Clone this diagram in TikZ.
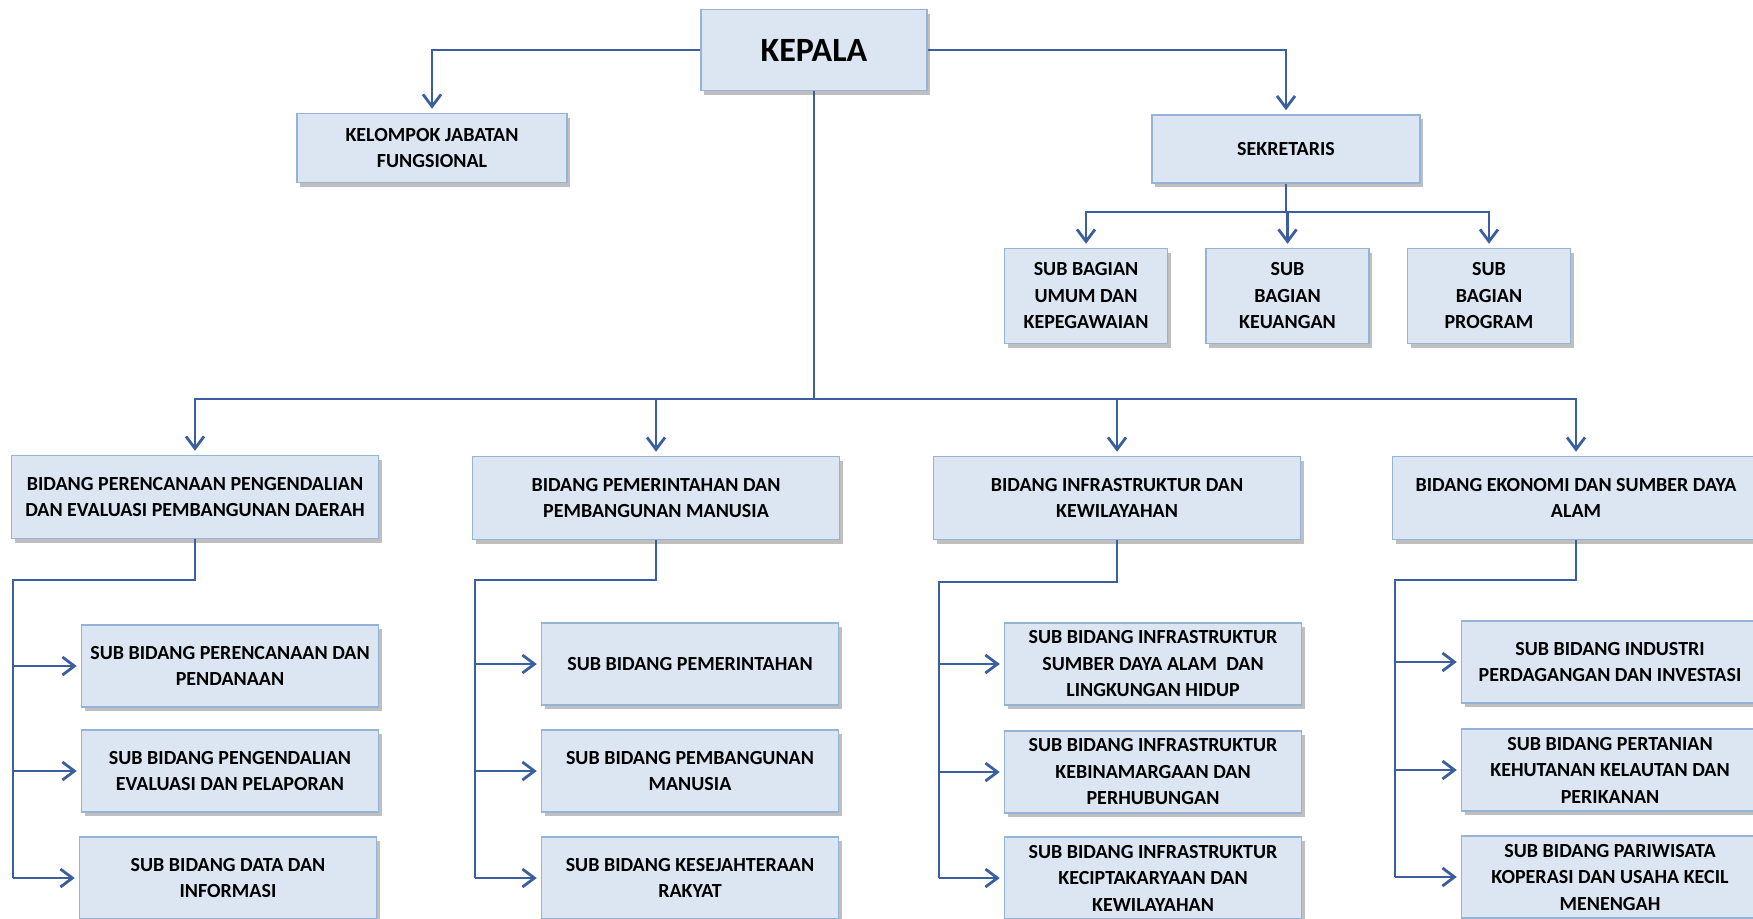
\documentclass[tikz,border=0pt]{standalone}
\usepackage{fontspec}
\setmainfont{Carlito}
\usetikzlibrary{arrows.meta,shadows,positioning}
\definecolor{boxfill}{HTML}{DCE6F2}
\definecolor{boxline}{HTML}{95B3D7}
\definecolor{linkblue}{HTML}{3A5E9E}

\begin{document}
\begin{tikzpicture}[
        x=1pt, y=-1pt,
        box/.style={draw=boxline, line width=1.5pt, fill=boxfill, align=center, inner sep=2pt,
            font=\bfseries\fontsize{20}{26.5}\selectfont,
            drop shadow={shadow xshift=3pt, shadow yshift=-4pt, fill=black, opacity=.25}},
        unit/.style={box, minimum width=297pt, minimum height=82pt},
        bidang/.style={box, minimum width=367pt, minimum height=83pt},
        subbag/.style={box, minimum width=163pt, minimum height=95pt},
        link/.style={line width=2.8pt, draw=linkblue},
        conn/.style={link, -{Straight Barb[length=12pt,width=18pt]}, shorten >=4pt}
    ]
    \useasboundingbox (0,0) rectangle (1753,918);

    % Nodes
    \node[box, minimum width=226pt, minimum height=81pt,
        font=\bfseries\fontsize{34}{40}\selectfont] (kepala) at (814,50) {KEPALA};
    \node[box, minimum width=270pt, minimum height=69pt] (kelompok) at (432,148)
        {KELOMPOK JABATAN\\FUNGSIONAL};
    \node[box, minimum width=268pt, minimum height=68pt] (sekretaris) at (1286,149) {SEKRETARIS};

    \node[subbag] (umum) at (1086,296) {SUB BAGIAN\\UMUM DAN\\KEPEGAWAIAN};
    \node[subbag, right=37pt of umum] (keuangan) {SUB\\BAGIAN\\KEUANGAN};
    \node[subbag, right=37pt of keuangan] (program) {SUB\\BAGIAN\\PROGRAM};

    \node[bidang] (perencanaan) at (195,497) {BIDANG PERENCANAAN PENGENDALIAN\\
        DAN EVALUASI PEMBANGUNAN DAERAH};
    \node[bidang] (pemerintahan) at (656,498) {BIDANG PEMERINTAHAN DAN\\
        PEMBANGUNAN MANUSIA};
    \node[bidang] (infrastruktur) at (1117,498) {BIDANG INFRASTRUKTUR DAN\\
        KEWILAYAHAN};
    \node[bidang] (ekonomi) at (1576,498) {BIDANG EKONOMI DAN SUMBER DAYA\\
        ALAM};

    \node[unit] (pr1) at (230,666) {SUB BIDANG PERENCANAAN DAN\\PENDANAAN};
    \node[unit] (pr2) at (230,771) {SUB BIDANG PENGENDALIAN\\EVALUASI DAN PELAPORAN};
    \node[unit] (pr3) at (228,878) {SUB BIDANG DATA DAN\\INFORMASI};

    \node[unit] (pm1) at (690,664) {SUB BIDANG PEMERINTAHAN};
    \node[unit] (pm2) at (690,771) {SUB BIDANG PEMBANGUNAN\\MANUSIA};
    \node[unit] (pm3) at (690,878) {SUB BIDANG KESEJAHTERAAN\\RAKYAT};

    \node[unit] (in1) at (1153,664) {SUB BIDANG INFRASTRUKTUR\\
        SUMBER DAYA ALAM~~DAN\\LINGKUNGAN HIDUP};
    \node[unit] (in2) at (1153,772) {SUB BIDANG INFRASTRUKTUR\\
        KEBINAMARGAAN DAN\\PERHUBUNGAN};
    \node[unit] (in3) at (1153,878) {SUB BIDANG INFRASTRUKTUR\\
        KECIPTAKARYAAN DAN\\KEWILAYAHAN};

    \node[unit] (ek1) at (1610,662) {SUB BIDANG INDUSTRI\\PERDAGANGAN DAN INVESTASI};
    \node[unit] (ek2) at (1610,770) {SUB BIDANG PERTANIAN\\
        KEHUTANAN KELAUTAN DAN\\PERIKANAN};
    \node[unit] (ek3) at (1610,877) {SUB BIDANG PARIWISATA\\
        KOPERASI DAN USAHA KECIL\\MENENGAH};

    % Bus points
    \coordinate (sekbus) at (1286,212);
    \coordinate (bus) at (814,399);
    \coordinate (prspine) at (13,580);
    \coordinate (pmspine) at (475,580);
    \coordinate (inspine) at (939,582);
    \coordinate (ekspine) at (1395,580);

    % Edges
    \draw[conn] (kepala.west) -| (kelompok.north);
    \draw[conn] (kepala.east) -| (sekretaris.north);

    \draw[link] (sekretaris.south) -- (sekbus);
    \draw[conn] (sekbus) -| (umum.north);
    \draw[conn] (sekbus) -| (keuangan.north);
    \draw[conn] (sekbus) -| (program.north);

    \draw[link] (kepala.south) -- (bus);
    \draw[conn] (bus) -| (perencanaan.north);
    \draw[conn] (bus) -| (pemerintahan.north);
    \draw[conn] (bus) -| (infrastruktur.north);
    \draw[conn] (bus) -| (ekonomi.north);

    \draw[link] (perencanaan.south) |- (prspine) -- (prspine |- pr3.west);
    \draw[conn] (prspine |- pr1.west) -- (pr1.west);
    \draw[conn] (prspine |- pr2.west) -- (pr2.west);
    \draw[conn] (prspine |- pr3.west) -- (pr3.west);

    \draw[link] (pemerintahan.south) |- (pmspine) -- (pmspine |- pm3.west);
    \draw[conn] (pmspine |- pm1.west) -- (pm1.west);
    \draw[conn] (pmspine |- pm2.west) -- (pm2.west);
    \draw[conn] (pmspine |- pm3.west) -- (pm3.west);

    \draw[link] (infrastruktur.south) |- (inspine) -- (inspine |- in3.west);
    \draw[conn] (inspine |- in1.west) -- (in1.west);
    \draw[conn] (inspine |- in2.west) -- (in2.west);
    \draw[conn] (inspine |- in3.west) -- (in3.west);

    \draw[link] (ekonomi.south) |- (ekspine) -- (ekspine |- ek3.west);
    \draw[conn] (ekspine |- ek1.west) -- (ek1.west);
    \draw[conn] (ekspine |- ek2.west) -- (ek2.west);
    \draw[conn] (ekspine |- ek3.west) -- (ek3.west);

\end{tikzpicture}
\end{document}
